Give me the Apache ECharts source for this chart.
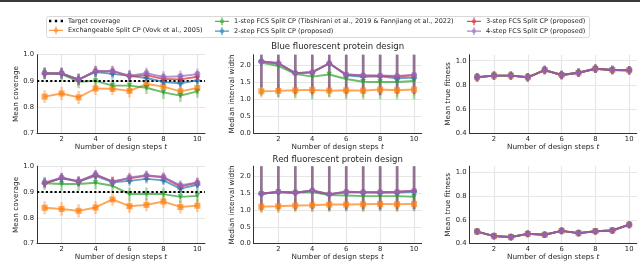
<!DOCTYPE html>
<html><head><meta charset="utf-8">
<script src="https://cdn.jsdelivr.net/npm/echarts@6/dist/echarts.min.js"></script>
<style>html,body{margin:0;padding:0;background:#fff}#c{width:640px;height:262px}</style>
</head><body><div id="c"></div>
<script>
// ---------------- data ----------------
const steps = [1, 2, 3, 4, 5, 6, 7, 8, 9, 10];
const xTicks = [2, 4, 6, 8, 10];
const covTicks = [0.7, 0.8, 0.9, 1.0];
const widthTicks = [0.0, 0.5, 1.0, 1.5, 2.0];
const fitTicks = [0.4, 0.6, 0.8, 1.0];
const targetCoverage = 0.9;

const methodNames = [
  'Exchangeable Split CP (Vovk et al., 2005)',
  '1-step FCS Split CP (Tibshirani et al., 2019 & Fannjiang et al., 2022)',
  '2-step FCS Split CP (proposed)',
  '3-step FCS Split CP (proposed)',
  '4-step FCS Split CP (proposed)'
];
const targetName = 'Target coverage';
const panelTitles = ['Blue fluorescent protein design', 'Red fluorescent protein design'];

// Blue fluorescent protein (top row) - mean coverage
const bfpCovExch = [0.840, 0.852, 0.837, 0.871, 0.870, 0.862, 0.888, 0.878, 0.860, 0.873];
const bfpCov1 = [0.929, 0.926, 0.897, 0.900, 0.882, 0.882, 0.874, 0.856, 0.844, 0.860];
const bfpCov2 = [0.928, 0.928, 0.905, 0.934, 0.927, 0.919, 0.911, 0.896, 0.891, 0.902];
const bfpCov3 = [0.928, 0.929, 0.905, 0.937, 0.937, 0.918, 0.922, 0.907, 0.906, 0.916];
const bfpCov4 = [0.929, 0.930, 0.906, 0.938, 0.938, 0.920, 0.929, 0.915, 0.918, 0.926];
const bfpCovErrExch = [0.024, 0.025, 0.025, 0.025, 0.024, 0.025, 0.024, 0.025, 0.025, 0.024];
const bfpCovErrFcs = [0.020, 0.020, 0.022, 0.020, 0.020, 0.021, 0.022, 0.022, 0.022, 0.021];

// Red fluorescent protein (bottom row) - mean coverage
const rfpCovExch = [0.839, 0.834, 0.827, 0.840, 0.871, 0.845, 0.850, 0.863, 0.842, 0.847];
const rfpCov1 = [0.934, 0.931, 0.931, 0.936, 0.924, 0.892, 0.892, 0.892, 0.881, 0.885];
const rfpCov2 = [0.934, 0.953, 0.940, 0.963, 0.938, 0.943, 0.951, 0.945, 0.913, 0.928];
const rfpCov3 = [0.934, 0.955, 0.941, 0.967, 0.941, 0.953, 0.963, 0.957, 0.921, 0.937];
const rfpCov4 = [0.936, 0.956, 0.942, 0.968, 0.939, 0.956, 0.965, 0.958, 0.926, 0.936];
const rfpCovErrExch = [0.025, 0.026, 0.026, 0.025, 0.024, 0.025, 0.025, 0.024, 0.025, 0.025];
const rfpCovErrFcs = [0.018, 0.019, 0.019, 0.017, 0.019, 0.019, 0.018, 0.018, 0.020, 0.019];

// Median interval width (BFP)
const bfpWidthExch = [1.23, 1.24, 1.26, 1.27, 1.25, 1.26, 1.25, 1.28, 1.26, 1.28];
const bfpWidth1 = [2.07, 1.97, 1.74, 1.66, 1.72, 1.59, 1.51, 1.50, 1.50, 1.53];
const bfpWidth2 = [2.10, 2.05, 1.76, 1.78, 2.04, 1.70, 1.65, 1.67, 1.61, 1.63];
const bfpWidth3 = [2.10, 2.05, 1.76, 1.79, 2.05, 1.72, 1.69, 1.68, 1.66, 1.70];
const bfpWidth4 = [2.10, 2.05, 1.76, 1.79, 2.05, 1.72, 1.70, 1.69, 1.68, 1.71];
const bfpWidthLoExch = [1.05, 1.06, 1.08, 1.09, 1.07, 1.08, 1.07, 1.10, 1.08, 1.10];
const bfpWidthHiExch = [1.41, 1.42, 1.44, 1.45, 1.43, 1.44, 1.43, 1.46, 1.44, 1.46];
const bfpWidthLo1 = [1.10, 1.05, 1.02, 1.00, 1.05, 1.00, 1.00, 1.00, 1.00, 1.00];
const bfpWidthLoFcs = [1.35, 1.18, 1.15, 1.15, 1.20, 1.15, 1.15, 1.12, 1.15, 1.15];
const bfpWidthHiFcs = [2.80, 2.80, 2.60, 2.60, 2.80, 2.60, 2.60, 2.60, 2.60, 2.60];

// Median interval width (RFP)
const rfpWidthExch = [1.10, 1.11, 1.13, 1.14, 1.16, 1.16, 1.17, 1.18, 1.17, 1.18];
const rfpWidth1 = [1.48, 1.53, 1.52, 1.53, 1.44, 1.43, 1.41, 1.41, 1.41, 1.39];
const rfpWidth2 = [1.48, 1.53, 1.51, 1.57, 1.46, 1.53, 1.52, 1.51, 1.52, 1.54];
const rfpWidth3 = [1.48, 1.54, 1.51, 1.58, 1.47, 1.54, 1.53, 1.53, 1.54, 1.57];
const rfpWidth4 = [1.48, 1.54, 1.51, 1.58, 1.47, 1.54, 1.53, 1.53, 1.54, 1.57];
const rfpWidthLoExch = [0.90, 0.91, 0.93, 0.94, 0.96, 0.96, 0.97, 0.98, 0.97, 0.98];
const rfpWidthHiExch = [1.30, 1.31, 1.33, 1.34, 1.36, 1.36, 1.37, 1.38, 1.37, 1.38];
const rfpWidthLo1 = [0.95, 0.96, 0.97, 0.96, 0.95, 0.96, 0.95, 0.96, 0.95, 0.96];
const rfpWidthLoFcs = [1.00, 1.02, 1.01, 1.03, 1.00, 1.02, 1.02, 1.02, 1.02, 1.03];
const rfpWidthHiFcs = [2.60, 2.60, 2.60, 2.60, 2.60, 2.60, 2.60, 2.60, 2.60, 2.60];

// Mean true fitness (same designs for all methods)
const bfpFitness = [0.863, 0.877, 0.877, 0.863, 0.923, 0.882, 0.901, 0.934, 0.923, 0.921];
const bfpFitnessErr = [0.035, 0.035, 0.035, 0.035, 0.035, 0.035, 0.035, 0.035, 0.035, 0.035];
const rfpFitness = [0.501, 0.463, 0.455, 0.482, 0.474, 0.507, 0.488, 0.504, 0.510, 0.559];
const rfpFitnessErr = [0.028, 0.028, 0.028, 0.028, 0.028, 0.028, 0.028, 0.028, 0.028, 0.030];

// ---------------- styling ----------------
const colors = ['#ff7f0e', '#2ca02c', '#1f77b4', '#d62728', '#9467bd'];
const symbols = ['rect', 'triangle', 'path://M3,0H7V3H10V7H7V10H3V7H0V3H3Z', 'diamond', 'circle'];
const symbolRot = [0, 180, 0, 0, 0];
const FONT = 'DejaVu Sans';
const TXT = '#262626';

const grids = [
  {left: 37, top: 54.7, width: 168, height: 78.6},
  {left: 253.7, top: 54.7, width: 168, height: 78.6},
  {left: 469.5, top: 54.7, width: 167.3, height: 78.6},
  {left: 37, top: 166.2, width: 168, height: 79.1},
  {left: 253.7, top: 166.2, width: 168, height: 79.1},
  {left: 469.5, top: 166.2, width: 167.3, height: 79.1}
];

function sym(vals, errs) {
  return {vals, lo: vals.map((v, i) => v - errs[i]), hi: vals.map((v, i) => v + errs[i])};
}
function asym(vals, lo, hi) { return {vals, lo, hi}; }

const panels = [
  {yMin: 0.7, yMax: 1.0, ticks: covTicks, yName: 'Mean coverage', target: true,
   methods: [sym(bfpCovExch, bfpCovErrExch), sym(bfpCov1, bfpCovErrExch), sym(bfpCov2, bfpCovErrFcs), sym(bfpCov3, bfpCovErrFcs), sym(bfpCov4, bfpCovErrFcs)]},
  {yMin: 0, yMax: 2.3, ticks: widthTicks, yName: 'Median interval width',
   methods: [asym(bfpWidthExch, bfpWidthLoExch, bfpWidthHiExch), asym(bfpWidth1, bfpWidthLo1, bfpWidthHiFcs), asym(bfpWidth2, bfpWidthLoFcs, bfpWidthHiFcs), asym(bfpWidth3, bfpWidthLoFcs, bfpWidthHiFcs), asym(bfpWidth4, bfpWidthLoFcs, bfpWidthHiFcs)]},
  {yMin: 0.4, yMax: 1.05, ticks: fitTicks, yName: 'Mean true fitness',
   methods: [0, 1, 2, 3, 4].map(() => sym(bfpFitness, bfpFitnessErr))},
  {yMin: 0.7, yMax: 1.0, ticks: covTicks, yName: 'Mean coverage', target: true,
   methods: [sym(rfpCovExch, rfpCovErrExch), sym(rfpCov1, rfpCovErrExch), sym(rfpCov2, rfpCovErrFcs), sym(rfpCov3, rfpCovErrFcs), sym(rfpCov4, rfpCovErrFcs)]},
  {yMin: 0, yMax: 2.3, ticks: widthTicks, yName: 'Median interval width',
   methods: [asym(rfpWidthExch, rfpWidthLoExch, rfpWidthHiExch), asym(rfpWidth1, rfpWidthLo1, rfpWidthHiFcs), asym(rfpWidth2, rfpWidthLoFcs, rfpWidthHiFcs), asym(rfpWidth3, rfpWidthLoFcs, rfpWidthHiFcs), asym(rfpWidth4, rfpWidthLoFcs, rfpWidthHiFcs)]},
  {yMin: 0.4, yMax: 1.05, ticks: fitTicks, yName: 'Mean true fitness',
   methods: [0, 1, 2, 3, 4].map(() => sym(rfpFitness, rfpFitnessErr))}
];

const xAxes = [], yAxes = [], series = [];
panels.forEach((p, gi) => {
  xAxes.push({
    type: 'value', gridIndex: gi, min: 0.55, max: 10.45,
    axisLine: {show: true, onZero: false, lineStyle: {color: '#333', width: 1}},
    axisTick: {show: false, customValues: xTicks},
    axisLabel: {customValues: xTicks, fontSize: 6.8, color: TXT, margin: 2.5, fontFamily: FONT},
    splitLine: {show: true, lineStyle: {color: '#e6e6e6', width: 1.2}},
    name: '{n|Number of design steps }{t|t}', nameLocation: 'middle', nameGap: 9.5,
    nameTextStyle: {rich: {
      n: {fontSize: 7.3, color: TXT, fontFamily: FONT},
      t: {fontSize: 7.3, color: TXT, fontFamily: FONT, fontStyle: 'italic'}
    }}
  });
  yAxes.push({
    type: 'value', gridIndex: gi, min: p.yMin, max: p.yMax,
    axisLine: {show: true, onZero: false, lineStyle: {color: '#333', width: 1}},
    axisTick: {show: false, customValues: p.ticks},
    axisLabel: {customValues: p.ticks, fontSize: 6.8, color: TXT, margin: 3, fontFamily: FONT, formatter: v => v.toFixed(1)},
    splitLine: {show: true, lineStyle: {color: '#e6e6e6', width: 1.2}},
    name: p.yName, nameLocation: 'middle', nameGap: 14,
    nameTextStyle: {fontSize: 7.3, color: TXT, fontFamily: FONT}
  });
  p.methods.forEach((m, mi) => {
    const col = colors[mi];
    series.push({
      type: 'custom', name: methodNames[mi], xAxisIndex: gi, yAxisIndex: gi, clip: true, silent: true, z: 2,
      encode: {x: 0, y: [1, 2]},
      data: steps.map((s, i) => [s, m.lo[i], m.hi[i]]),
      renderItem: (params, api) => {
        const a = api.coord([api.value(0), api.value(1)]);
        const b = api.coord([api.value(0), api.value(2)]);
        return {type: 'line', shape: {x1: a[0], y1: a[1], x2: b[0], y2: b[1]},
          style: {stroke: col, lineWidth: 2.5, opacity: 0.4}};
      }
    });
  });
  p.methods.forEach((m, mi) => {
    series.push({
      type: 'line', name: methodNames[mi], xAxisIndex: gi, yAxisIndex: gi, silent: true, z: 3 + mi,
      data: steps.map((s, i) => [s, m.vals[i]]),
      symbol: symbols[mi], symbolRotate: symbolRot[mi], symbolSize: mi === 1 ? 5.5 : 6, showSymbol: true,
      lineStyle: {color: colors[mi], width: 1.9, opacity: 0.7},
      itemStyle: {color: colors[mi], opacity: 0.7}
    });
  });
  if (p.target) {
    series.push({
      type: 'line', name: targetName, xAxisIndex: gi, yAxisIndex: gi, silent: true, z: 10, data: [],
      itemStyle: {color: '#000'}, lineStyle: {color: '#000'},
      markLine: {silent: true, symbol: 'none', label: {show: false},
        lineStyle: {color: '#000', type: [2.2, 2.2], width: 2.2, opacity: 1},
        data: [{yAxis: targetCoverage}]}
    });
  }
});

const ebIcon = 'path://M0,4.2H18V5.8H0Z M8.2,0H9.8V10H8.2Z M6.8,3H11.2V7H6.8Z';
const dotIcon = 'path://M0,0H3V3H0Z M7.5,0H10.5V3H7.5Z M15,0H18V3H15Z';
const legendBase = {orient: 'vertical', top: 17.5, itemWidth: 14, itemHeight: 8, itemGap: 2, selectedMode: false,
  padding: 0, textStyle: {fontSize: 6.5, color: TXT, fontFamily: FONT}};
function li(idx) { return {name: methodNames[idx], icon: ebIcon, itemStyle: {color: colors[idx], opacity: 0.8}}; }

const option = {
  animation: false,
  grid: grids,
  xAxis: xAxes,
  yAxis: yAxes,
  series: series,
  legend: [
    Object.assign({}, legendBase, {left: 49, data: [{name: targetName, icon: dotIcon, itemStyle: {color: '#000'}}, li(0)]}),
    Object.assign({}, legendBase, {left: 215, data: [li(1), li(2)]}),
    Object.assign({}, legendBase, {left: 467, data: [li(3), li(4)]})
  ],
  graphic: [
    {type: 'rect', z: -10, shape: {x: 0, y: 0, width: 640, height: 2}, style: {fill: '#3a3a3a'}},
    {type: 'rect', z: -10, shape: {x: 46.5, y: 16.5, width: 543, height: 21, r: 2}, style: {fill: '#fff', stroke: '#d9d9d9', lineWidth: 1}},
    {type: 'text', x: 337.7, y: 46.7, style: {text: panelTitles[0], fontSize: 8.5, fontFamily: FONT, fill: TXT, align: 'center', verticalAlign: 'middle'}},
    {type: 'text', x: 337.7, y: 159.3, style: {text: panelTitles[1], fontSize: 8.5, fontFamily: FONT, fill: TXT, align: 'center', verticalAlign: 'middle'}}
  ]
};
const chart = echarts.init(document.getElementById('c'), null, {renderer: 'canvas'});
chart.setOption(option);
</script></body></html>
